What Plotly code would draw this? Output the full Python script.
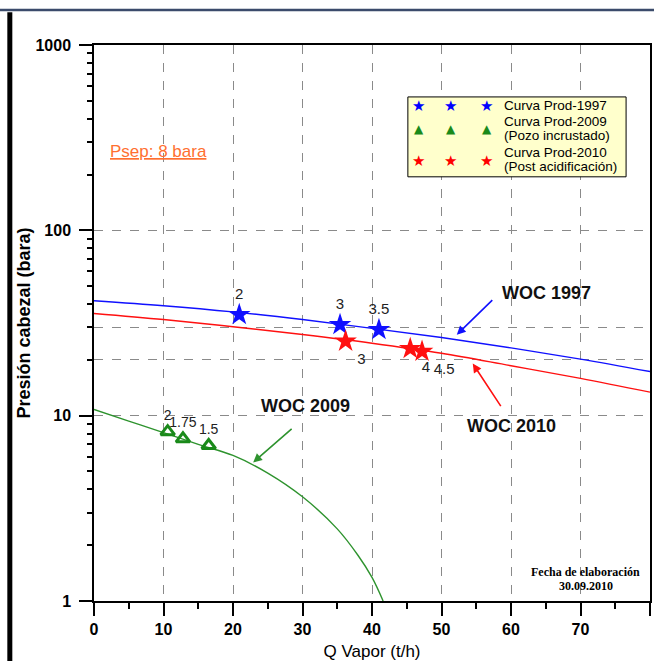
import math
import plotly.graph_objects as go

# ---------------- data ----------------
q_curve = [0, 10, 20, 30, 40, 50, 60, 70, 80]
p_woc1997 = [41.7, 39.2, 36.3, 33.0, 29.6, 26.4, 23.2, 20.2, 17.3]
p_woc2010 = [35.6, 33.0, 30.2, 27.4, 24.6, 21.7, 18.6, 15.9, 13.4]

q_woc2009 = [0, 5, 10, 15, 20, 25, 30, 35, 38, 40, 41.6]
p_woc2009 = [10.8, 9.35, 8.1, 7.0, 6.1, 4.9, 3.65, 2.45, 1.76, 1.34, 1.0]

q_prod1997 = [20.9, 35.4, 41.0]
p_prod1997 = [35.1, 31.0, 29.1]
lab_prod1997 = ["2", "3", "3.5"]

q_prod2010 = [36.2, 45.5, 47.2]
p_prod2010 = [25.2, 23.0, 22.2]
lab_prod2010 = ["3", "4", "4.5"]

q_prod2009 = [10.6, 12.8, 16.5]
p_prod2009 = [8.2, 7.5, 6.9]
lab_prod2009 = ["2", "1.75", "1.5"]

x_ticks = [0, 10, 20, 30, 40, 50, 60, 70, 80]
y_ticks = [1, 10, 100, 1000]
y_grid = [10, 20, 30, 100]
y_minor = [m * d for d in (1, 10, 100) for m in range(2, 10)]

legend_rows = [
    ("★", "blue", 15, ["Curva Prod-1997"]),
    ("▲", "#1a8a1a", 12, ["Curva Prod-2009", "(Pozo incrustado)"]),
    ("★", "red", 15, ["Curva Prod-2010", "(Post acidificación)"]),
]

BLUE = "#1010ff"
RED = "#ff1010"
GREEN = "#2e932e"
FONT = "Liberation Sans, Arial, sans-serif"

fig = go.Figure()

fig.add_trace(go.Scatter(x=q_curve, y=p_woc1997, mode="lines",
                         line=dict(color=BLUE, width=1.4, shape="spline"),
                         showlegend=False, hoverinfo="skip"))
fig.add_trace(go.Scatter(x=q_curve, y=p_woc2010, mode="lines",
                         line=dict(color=RED, width=1.4, shape="spline"),
                         showlegend=False, hoverinfo="skip"))
fig.add_trace(go.Scatter(x=q_woc2009, y=p_woc2009, mode="lines",
                         line=dict(color=GREEN, width=1.4, shape="spline"),
                         showlegend=False, hoverinfo="skip"))

fig.add_trace(go.Scatter(x=q_prod1997, y=p_prod1997, mode="markers+text",
                         marker=dict(symbol="star", size=17, color=BLUE,
                                     line=dict(width=0)),
                         text=lab_prod1997, textposition="top center",
                         textfont=dict(family=FONT, size=15, color="#222"),
                         showlegend=False))
fig.add_trace(go.Scatter(x=q_prod2010, y=p_prod2010, mode="markers+text",
                         marker=dict(symbol="star", size=17, color=RED,
                                     line=dict(width=0)),
                         text=lab_prod2010, textposition="bottom right",
                         textfont=dict(family=FONT, size=15, color="#222"),
                         showlegend=False))
fig.add_trace(go.Scatter(x=q_prod2009, y=p_prod2009, mode="markers+text",
                         marker=dict(symbol="triangle-up-open", size=12,
                                     color="#1a8a1a", line=dict(width=3)),
                         text=lab_prod2009, textposition="top center",
                         textfont=dict(family=FONT, size=14, color="#222"),
                         showlegend=False))

# dummy trace to activate the grid axis
fig.add_trace(go.Scatter(x=[None], y=[None], yaxis="y2", showlegend=False,
                         hoverinfo="skip"))

# ---------------- layout ----------------
fig.update_layout(
    width=654, height=661,
    margin=dict(l=94, r=2, t=45, b=59),
    paper_bgcolor="white", plot_bgcolor="white",
    font=dict(family=FONT, color="black"),
    showlegend=False,
    xaxis=dict(
        range=[0, 80], tickvals=x_ticks,
        ticks="outside", ticklen=13, tickwidth=1.5, tickcolor="black",
        minor=dict(dtick=5, ticks="outside", ticklen=6, tickwidth=1.5,
                   tickcolor="black", showgrid=False),
        showline=True, linecolor="black", linewidth=1.5, mirror=True,
        showgrid=True, gridcolor="#8a8a8a", gridwidth=1, griddash="dash",
        zeroline=False,
        tickfont=dict(family=FONT, size=16, color="black", weight="bold"),
        title=dict(text="Q Vapor (t/h)", standoff=9,
                   font=dict(family=FONT, size=17, color="black")),
    ),
    yaxis=dict(
        type="log", range=[0, 3], tickvals=y_ticks,
        ticktext=[str(v) for v in y_ticks],
        ticks="outside", ticklen=13, tickwidth=1.5, tickcolor="black",
        ticklabelstandoff=5,
        minor=dict(tickvals=y_minor, ticks="outside", ticklen=5, tickwidth=1.5,
                   tickcolor="black", showgrid=False),
        showline=True, linecolor="black", linewidth=1.5, mirror=True,
        showgrid=False, zeroline=False,
        tickfont=dict(family=FONT, size=16, color="black", weight="bold"),
        title=dict(text="Presión cabezal (bara)", standoff=0,
                   font=dict(family=FONT, size=18, color="black", weight="bold")),
    ),
    yaxis2=dict(
        type="log", range=[0, 3], overlaying="y", side="left",
        tickvals=y_grid, showticklabels=False, ticks="",
        showgrid=True, gridcolor="#8a8a8a", gridwidth=1, griddash="dash",
        showline=False, zeroline=False,
    ),
)

L = math.log10  # annotations on a log axis are placed in log10 units

# ---------------- annotations ----------------
ann = []
for x, y, ax, ay, col in [(52.2, 27.35, 37, -36, BLUE),
                          (54.5, 19.09, 29, 44, RED),
                          (22.9, 5.59, 40, -35, GREEN)]:
    ann.append(dict(x=x, y=L(y), xref="x", yref="y", ax=ax, ay=ay, text="",
                    showarrow=True, arrowhead=2, arrowsize=1.1,
                    arrowwidth=1.6, arrowcolor=col, standoff=0, startstandoff=0))
for x, y, t in [(65.1, 46.0, "WOC 1997"), (60.1, 8.85, "WOC 2010"),
                (30.5, 11.33, "WOC 2009")]:
    ann.append(dict(x=x, y=L(y), xref="x", yref="y", text=t, showarrow=False,
                    xanchor="center", yanchor="middle",
                    font=dict(family=FONT, size=18, color="#111", weight="bold")))

ann.append(dict(x=2.0, y=L(264.8), xref="x", yref="y", xanchor="left",
                yanchor="middle", text="<u>Psep: 8 bara</u>", showarrow=False,
                font=dict(family=FONT, size=17, color="#ff6f30")))

for yv, t in [(0.052, "Fecha de elaboración"), (0.027, "30.09.2010")]:
    ann.append(dict(x=0.8844, y=yv, xref="paper", yref="paper",
                    xanchor="center", yanchor="middle",
                    text="<b>" + t + "</b>", showarrow=False,
                    font=dict(family="Liberation Serif, Times New Roman, serif",
                              size=12, color="black")))

# Legend (drawn manually to show three markers per entry)
row_y_marker = [0.8904, 0.8491, 0.7916]
row_y_text = [[0.8904], [0.8626, 0.8374], [0.8060, 0.7809]]
marker_x = [0.5842, 0.6416, 0.7061]
for (sym, col, sz, lines), ym, yts in zip(legend_rows, row_y_marker, row_y_text):
    for mx in marker_x:
        ann.append(dict(x=mx, y=ym, xref="paper", yref="paper", text=sym,
                        xanchor="center", yanchor="middle", showarrow=False,
                        font=dict(family="DejaVu Sans", size=sz, color=col)))
    for line, yt in zip(lines, yts):
        ann.append(dict(x=0.733, y=yt, xref="paper", yref="paper", text=line,
                        xanchor="left", yanchor="middle", showarrow=False,
                        font=dict(family=FONT, size=13.5, color="black")))

fig.update_layout(annotations=ann)

# ---------------- shapes (legend box + page frame) ----------------
fig.update_layout(shapes=[
    dict(type="rect", xref="paper", yref="paper", x0=0.5645, x1=0.957,
         y0=0.7629, y1=0.9066, fillcolor="#ffffcc",
         line=dict(color="black", width=1), layer="above"),
    dict(type="line", xref="paper", yref="paper", x0=-0.17, x1=1.01,
         y0=1.0629, y1=1.0629, line=dict(color="#3b4b6b", width=2.5)),
    dict(type="line", xref="paper", yref="paper", x0=-0.1514, x1=-0.1514,
         y0=1.059, y1=-0.12, line=dict(color="black", width=5)),
])

fig.write_html("out.html",
               config={"displayModeBar": False},
               post_script="document.body.style.margin='0';"
                           "document.body.style.padding='0';")
